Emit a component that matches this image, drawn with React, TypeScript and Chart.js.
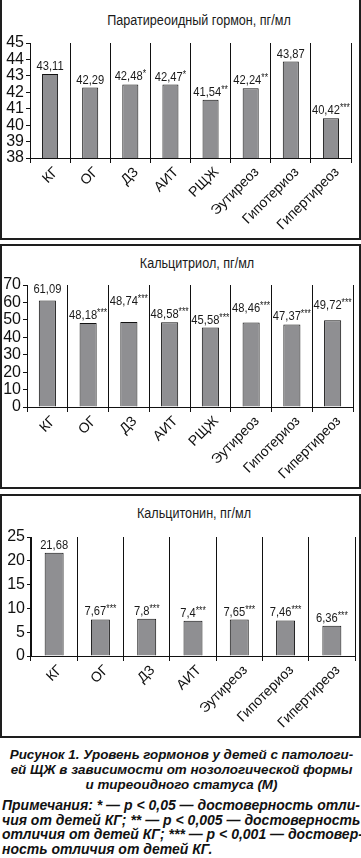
import React, { useEffect, useRef } from "react";
import { Chart, registerables } from "chart.js";

Chart.register(...registerables);

// ---------- data ----------
const pthCategories = ["КГ", "ОГ", "ДЗ", "АИТ", "РЩЖ", "Эутиреоз", "Гипотериоз", "Гипертиреоз"];
const pthValues = [43.11, 42.29, 42.48, 42.47, 41.54, 42.24, 43.87, 40.42];
const pthMarks = ["", "", "*", "*", "**", "**", "", "***"];
const pthTitle = "Паратиреоидный гормон, пг/мл";
const pthAxis = { min: 38, max: 45, step: 1 };

const calcitriolCategories = ["КГ", "ОГ", "ДЗ", "АИТ", "РЩЖ", "Эутиреоз", "Гипотериоз", "Гипертиреоз"];
const calcitriolValues = [61.09, 48.18, 48.74, 48.58, 45.58, 48.46, 47.37, 49.72];
const calcitriolMarks = ["", "***", "***", "***", "***", "***", "***", "***"];
const calcitriolTitle = "Кальцитриол, пг/мл";
const calcitriolAxis = { min: 0, max: 70, step: 10 };

const calcitoninCategories = ["КГ", "ОГ", "ДЗ", "АИТ", "Эутиреоз", "Гипотериоз", "Гипертиреоз"];
const calcitoninValues = [21.68, 7.67, 7.8, 7.4, 7.65, 7.46, 6.36];
const calcitoninMarks = ["", "***", "***", "***", "***", "***", "***"];
const calcitoninTitle = "Кальцитонин, пг/мл";
const calcitoninAxis = { min: 0, max: 25, step: 5 };

const captionLines = [
  "Рисунок 1. Уровень гормонов у детей с патологи-",
  "ей ЩЖ в зависимости от нозологической формы",
  "и тиреоидного статуса (М)",
];
const noteLines = [
  "Примечания: * — p < 0,05 — достоверность отли-",
  "чия от детей КГ; ** — p < 0,005 — достоверность",
  "отличия от детей КГ; *** — p < 0,001 — достовер-",
  "ность отличия от детей КГ.",
];

const FONT = "'Liberation Sans', Arial, sans-serif";
const W = 361;

const valueLabelPlugin = {
  id: "valueLabels",
  afterDatasetsDraw(chart: any, _args: any, opts: any) {
    const ctx = chart.ctx;
    const meta = chart.getDatasetMeta(0);
    const values: number[] = chart.data.datasets[0].data;
    const marks: string[] = opts.marks || [];
    const lift: number[] = opts.lift || [];
    const sx = 0.86;
    ctx.save();
    ctx.fillStyle = "#1a1a1a";
    ctx.textBaseline = "alphabetic";
    ctx.textAlign = "left";
    meta.data.forEach((bar: any, i: number) => {
      const num = String(values[i]).replace(".", ",");
      const star = marks[i] || "";
      ctx.font = `13px ${FONT}`;
      const wNum = ctx.measureText(num).width;
      ctx.font = `10px ${FONT}`;
      const wStar = star ? ctx.measureText(star).width : 0;
      const total = (wNum + wStar) * sx;
      const x0 = bar.x - total / 2;
      const yBase = bar.y - 4 - (lift[i] || 0);
      ctx.save();
      ctx.translate(x0, yBase);
      ctx.scale(sx, 1);
      ctx.font = `13px ${FONT}`;
      ctx.fillText(num, 0, 0);
      if (star) {
        ctx.font = `10px ${FONT}`;
        ctx.fillText(star, wNum, -3);
      }
      ctx.restore();
    });
    ctx.restore();
  },
};

type PanelProps = {
  top: number;
  height: number;
  title: string;
  titleX: number;
  titleY: number;
  categories: string[];
  values: number[];
  marks: string[];
  axis: { min: number; max: number; step: number };
  area: { left: number; right: number; top: number; bottom: number };
  barPct: number;
  lift?: number[];
};

function Panel(p: PanelProps) {
  const ref = useRef<HTMLCanvasElement | null>(null);
  useEffect(() => {
    if (!ref.current) return;
    const H = p.height;
    const chart = new Chart(ref.current, {
      type: "bar",
      data: {
        labels: p.categories,
        datasets: [
          {
            data: p.values,
            backgroundColor: "#8f8f92",
            borderColor: "#111111",
            borderWidth: 1,
            barPercentage: p.barPct,
            categoryPercentage: 1,
          },
        ],
      },
      options: {
        responsive: false,
        animation: false,
        devicePixelRatio: 1,
        layout: { padding: { top: p.area.top, right: W - p.area.right, left: 0, bottom: 0 } },
        plugins: {
          legend: { display: false },
          tooltip: { enabled: false },
          title: { display: false },
          valueLabels: { marks: p.marks, lift: p.lift || [] },
        } as any,
        scales: {
          x: {
            grid: { offset: true, color: "#111111", lineWidth: 1, drawTicks: true, tickLength: 5, drawOnChartArea: true },
            border: { display: true, color: "#111111", width: 1 },
            ticks: {
              minRotation: 45,
              maxRotation: 45,
              autoSkip: false,
              color: "#111111",
              padding: 1,
              labelOffset: 6,
              font: { family: FONT, size: 14 },
            },
            afterFit: (s: any) => {
              s.height = H - p.area.bottom;
            },
          },
          y: {
            min: p.axis.min,
            max: p.axis.max,
            grid: { drawOnChartArea: false, drawTicks: true, tickLength: 4, color: "#111111" },
            border: { display: true, color: "#111111", width: 1 },
            ticks: {
              stepSize: p.axis.step,
              autoSkip: false,
              maxTicksLimit: 100,
              color: "#111111",
              padding: 2,
              font: { family: FONT, size: 16, lineHeight: 0.8 },
            },
            afterFit: (s: any) => {
              s.width = p.area.left;
            },
          },
        },
      },
      plugins: [valueLabelPlugin],
    });
    return () => chart.destroy();
  }, []);

  return (
    <>
      <div
        style={{
          position: "absolute",
          left: 0,
          top: p.top,
          width: W,
          height: p.height,
          boxSizing: "border-box",
          border: "2px solid #1e1e1e",
        }}
      />
      <div
        style={{
          position: "absolute",
          left: p.titleX,
          top: p.top + p.titleY,
          transform: "translate(-50%, -50%) scaleX(0.9)",
          whiteSpace: "nowrap",
          fontFamily: FONT,
          fontSize: 14,
          color: "#1a1a1a",
        }}
      >
        {p.title}
      </div>
      <canvas
        ref={ref}
        width={W}
        height={p.height}
        style={{ position: "absolute", left: 0, top: p.top, width: W, height: p.height }}
      />
    </>
  );
}

export default function App() {
  return (
    <div style={{ position: "relative", width: W, height: 858, background: "#ffffff", overflow: "hidden" }}>
      <style>{`body{margin:0;background:#fff}`}</style>
      <Panel
        top={-2}
        height={242}
        title={pthTitle}
        titleX={199}
        titleY={22}
        categories={pthCategories}
        values={pthValues}
        marks={pthMarks}
        axis={pthAxis}
        area={{ left: 30, right: 351, top: 45, bottom: 160 }}
        barPct={0.4}
      />
      <Panel
        top={244}
        height={245}
        title={calcitriolTitle}
        titleX={197}
        titleY={19}
        categories={calcitriolCategories}
        values={calcitriolValues}
        marks={calcitriolMarks}
        axis={calcitriolAxis}
        area={{ left: 27, right: 353, top: 41, bottom: 163 }}
        barPct={0.42}
        lift={[4, 0, 13, 0, 0, 7, 0, 7]}
      />
      <Panel
        top={494}
        height={244}
        title={calcitoninTitle}
        titleX={194}
        titleY={19}
        categories={calcitoninCategories}
        values={calcitoninValues}
        marks={calcitoninMarks}
        axis={calcitoninAxis}
        area={{ left: 31, right: 355, top: 43, bottom: 162 }}
        barPct={0.41}
      />
      <div
        style={{
          position: "absolute",
          left: 6,
          top: 747,
          width: 351,
          fontFamily: FONT,
          fontWeight: "bold",
          fontStyle: "italic",
          fontSize: 13.4,
          lineHeight: "15px",
          color: "#111",
          textAlign: "center",
        }}
      >
        {captionLines.map((l, i) => (
          <div key={i} style={{ whiteSpace: "nowrap" }}>{l}</div>
        ))}
      </div>
      <div
        style={{
          position: "absolute",
          left: 2,
          top: 798,
          width: 356,
          fontFamily: FONT,
          fontWeight: "bold",
          fontStyle: "italic",
          fontSize: 14,
          lineHeight: "14.7px",
          color: "#111",
        }}
      >
        {noteLines.map((l, i) => (
          <div
            key={i}
            style={{
              whiteSpace: "nowrap",
              textAlign: i < noteLines.length - 1 ? "justify" : "left",
              textAlignLast: i < noteLines.length - 1 ? "justify" : "left",
            }}
          >
            {l}
          </div>
        ))}
      </div>
    </div>
  );
}
